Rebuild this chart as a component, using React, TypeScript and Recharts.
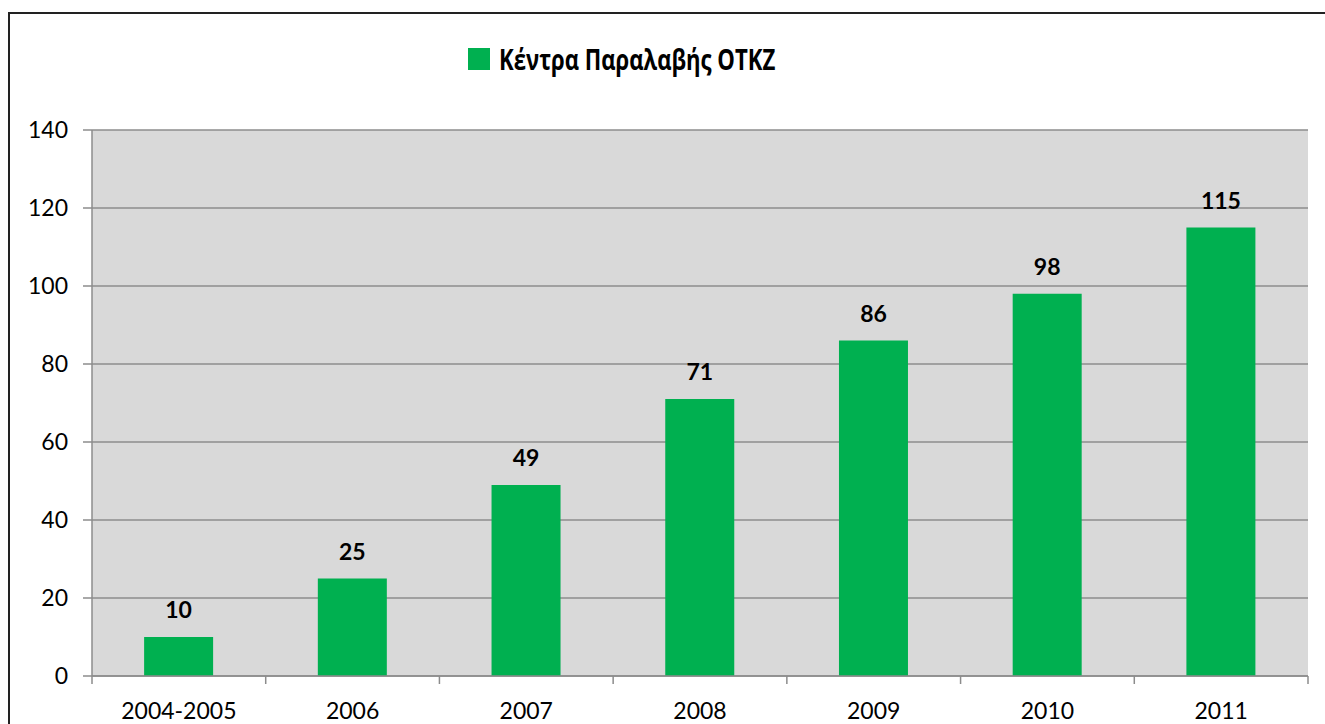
import { BarChart, Bar, XAxis, YAxis, CartesianGrid, LabelList } from 'recharts';

// ─── Data ─────────────────────────────────────────────────────────────────────

const YEARS = ['2004-2005', '2006', '2007', '2008', '2009', '2010', '2011'];
const CENTERS = [10, 25, 49, 71, 86, 98, 115];
const Y_TICKS = [0, 20, 40, 60, 80, 100, 120, 140];
const EDGE_TICKS = [0, 1, 2, 3, 4, 5, 6, 7];
const SERIES_NAME = 'Κέντρα Παραλαβής ΟΤΚΖ';

const COLOR_BAR = '#00B050';
const COLOR_PLOT = '#D9D9D9';
const COLOR_GRID = '#8C8C8C';
const FONT = "Lato, 'Open Sans', sans-serif";

const data = YEARS.map((year, i) => ({ year, idx: i + 0.5, value: CENTERS[i] }));

function LegendTitle() {
  return (
    <div
      style={{
        position: 'absolute',
        left: 468,
        top: 40,
        display: 'flex',
        alignItems: 'center',
        gap: 9,
        fontFamily: "'Open Sans', sans-serif",
        fontWeight: 700,
        fontSize: 28,
        color: '#000',
        whiteSpace: 'nowrap',
      }}
    >
      <span style={{ width: 22, height: 22, background: COLOR_BAR, display: 'inline-block', flexShrink: 0 }} />
      <span style={{ display: 'inline-block', transform: 'scaleX(0.79)', transformOrigin: 'left center' }}>
        {SERIES_NAME}
      </span>
    </div>
  );
}

export default function App() {
  return (
    <div style={{ position: 'fixed', left: 0, top: 0, width: 1325, height: 724, background: '#fff', overflow: 'hidden' }}>
      <div
        style={{
          position: 'absolute',
          left: 8,
          top: 12,
          width: 1340,
          height: 740,
          border: '2px solid #222',
          boxSizing: 'border-box',
        }}
      />
      <LegendTitle />
      <div style={{ position: 'absolute', left: 0, top: 0 }}>
        <BarChart
          width={1325}
          height={724}
          data={data}
          margin={{ top: 130, right: 17, left: 0, bottom: 0 }}
          barCategoryGap="30%"
        >
          <CartesianGrid vertical={false} stroke={COLOR_GRID} strokeWidth={1.5} fill={COLOR_PLOT} fillOpacity={1} />
          <XAxis
            xAxisId="b"
            dataKey="year"
            axisLine={false}
            tickLine={false}
            tick={{ fill: '#000', fontSize: 23, fontFamily: FONT }}
            tickMargin={20}
            height={47}
          />
          {/* boundary ticks between categories, as in the original sheet */}
          <XAxis
            xAxisId="a"
            type="number"
            dataKey="idx"
            domain={[0, 7]}
            ticks={EDGE_TICKS}
            interval={0}
            tickFormatter={() => ''}
            axisLine={{ stroke: COLOR_GRID, strokeWidth: 1.5 }}
            tickLine={{ stroke: COLOR_GRID, strokeWidth: 1.5 }}
            tickSize={8}
            height={1}
          />
          <YAxis
            domain={[0, 140]}
            ticks={Y_TICKS}
            interval={0}
            width={92}
            axisLine={{ stroke: COLOR_GRID, strokeWidth: 1.5 }}
            tickLine={{ stroke: COLOR_GRID, strokeWidth: 1.5 }}
            tickSize={9}
            tickMargin={15}
            tick={{ fill: '#000', fontSize: 23, fontFamily: FONT }}
          />
          <Bar xAxisId="b" dataKey="value" name={SERIES_NAME} fill={COLOR_BAR} isAnimationActive={false}>
            <LabelList
              dataKey="value"
              position="top"
              offset={19}
              style={{ fill: '#000', fontSize: 23, fontWeight: 700, fontFamily: FONT }}
            />
          </Bar>
        </BarChart>
      </div>
    </div>
  );
}
